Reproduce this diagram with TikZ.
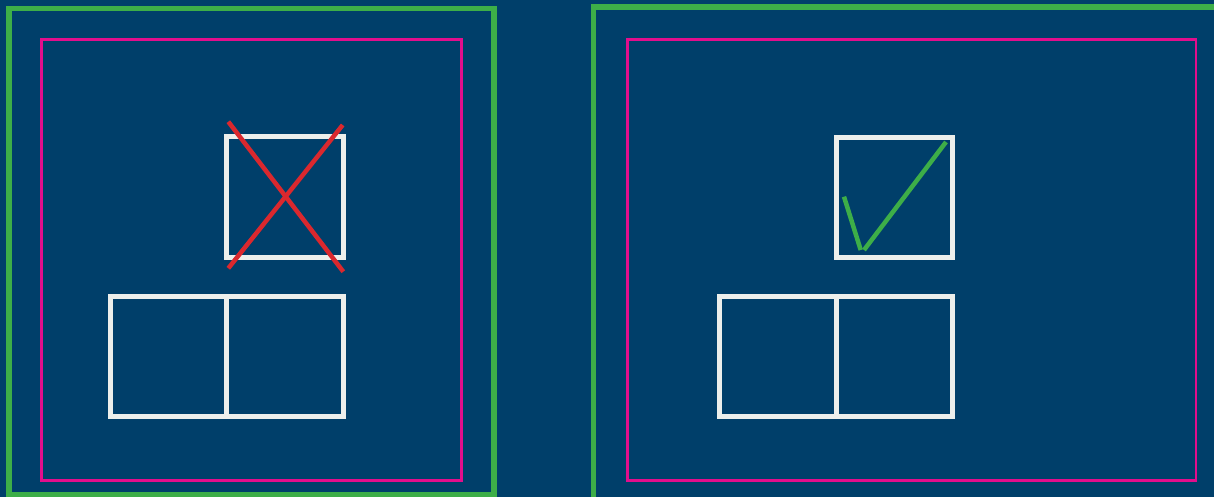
\documentclass[tikz,border=0pt]{standalone}
\definecolor{bgblue}{RGB}{0,63,106}
\definecolor{framegreen}{RGB}{61,174,72}
\definecolor{framepink}{RGB}{226,14,140}
\definecolor{crossred}{RGB}{218,40,46}
\definecolor{boxwhite}{RGB}{236,239,236}
\tikzset{
  outerframe/.style={draw=framegreen, line width=5.5pt},
  innerframe/.style={draw=framepink, line width=2.8pt},
  cell/.style={draw=boxwhite, line width=5pt, rectangle, inner sep=0pt, outer sep=0pt, minimum width=116.6pt, minimum height=120.6pt, anchor=north west},
  crossline/.style={draw=crossred, line width=4.5pt},
  tickline/.style={draw=framegreen, line width=4.5pt}
}
\begin{document}
\begin{tikzpicture}[x=1pt,y=-1pt]
\useasboundingbox (0,0) rectangle (1214,497);
\fill[bgblue] (0,0) rectangle (1214,497);
% frames
\draw[outerframe] (9,8.5) rectangle (494,494.5);
\draw[outerframe] (593.5,7) rectangle (1220,500);
\draw[innerframe] (41.5,39.5) rectangle (461.5,480.7);
\draw[innerframe] (627.5,39.5) rectangle (1196,480.7);
% left group
\node[cell] (lt) at (226.7,137) {};
\node[cell] (lbl) at (110,296.2) {};
\node[cell] (lbr) at (226.7,296.2) {};
\draw[crossline] (228.3,121.7) -- (343.3,271.7);
\draw[crossline] (342.7,125) -- (228.3,268.3);
% right group
\node[cell] (rt) at (836.2,137.2) {};
\node[cell] (rbl) at (719.6,296.2) {};
\node[cell] (rbr) at (836.2,296.2) {};
\draw[tickline] (844,196.7) -- (860.7,250);
\draw[tickline] (864,250) -- (946,142);
\end{tikzpicture}
\end{document}
